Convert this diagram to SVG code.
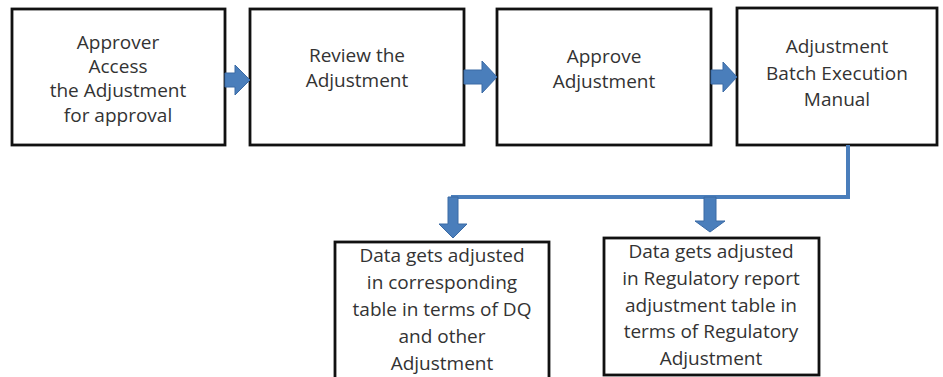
<svg xmlns="http://www.w3.org/2000/svg" width="943" height="377" viewBox="0 0 943 377">
<style>
.box{fill:#fff;stroke:#111;stroke-width:2.8}
.t{font-family:"Open Sans","Liberation Sans",sans-serif;font-size:19px;fill:#333;text-anchor:middle}
.ar{fill:#4a7ebb;stroke:#3a6aa5;stroke-width:1}
.ln{fill:none;stroke:#4a7ebb;stroke-width:4}
</style>
<rect width="943" height="377" fill="#fff"/>
<g id="n1"><rect class="box" x="12" y="9" width="213" height="136"/>
<text class="t" x="118" y="49">Approver</text><text class="t" x="118" y="73">Access</text><text class="t" x="118" y="97">the Adjustment</text><text class="t" x="118" y="122">for approval</text></g>
<g id="n2"><rect class="box" x="250" y="9" width="214" height="136"/>
<text class="t" x="357" y="62">Review the</text><text class="t" x="357" y="87">Adjustment</text></g>
<g id="n3"><rect class="box" x="497" y="9" width="214" height="136"/>
<text class="t" x="604" y="63">Approve</text><text class="t" x="604" y="88">Adjustment</text></g>
<g id="n4"><rect class="box" x="737" y="8" width="200" height="137"/>
<text class="t" x="837" y="53">Adjustment</text><text class="t" x="837" y="80">Batch Execution</text><text class="t" x="837" y="106">Manual</text></g>
<g id="n5"><rect class="box" x="335" y="242" width="214" height="140"/>
<text class="t" x="442" y="262">Data gets adjusted</text><text class="t" x="442" y="289">in corresponding</text><text class="t" x="442" y="316">table in terms of DQ</text><text class="t" x="442" y="343">and other</text><text class="t" x="442" y="370">Adjustment</text></g>
<g id="n6"><rect class="box" x="604" y="238" width="215" height="137"/>
<text class="t" x="711" y="258">Data gets adjusted</text><text class="t" x="711" y="285">in Regulatory report</text><text class="t" x="711" y="312">adjustment table in</text><text class="t" x="711" y="338">terms of Regulatory</text><text class="t" x="711" y="365">Adjustment</text></g>
<g id="connectors">
<polygon class="ar" points="225,73 235,73 235,65 250,80 235,95 235,87 225,87"/>
<polygon class="ar" points="464,70 482,70 482,61 497,77 482,93 482,84 464,84"/>
<polygon class="ar" points="711,70 723,70 723,62 737,77 723,92 723,84 711,84"/>
<path class="ln" d="M848,145 V197 H451"/>
<polygon class="ar" points="448,197 458,197 458,224 467,224 453,238 439,224 448,224"/>
<polygon class="ar" points="704,197 716,197 716,221 725,221 710,232 695,221 704,221"/>
</g>
</svg>
